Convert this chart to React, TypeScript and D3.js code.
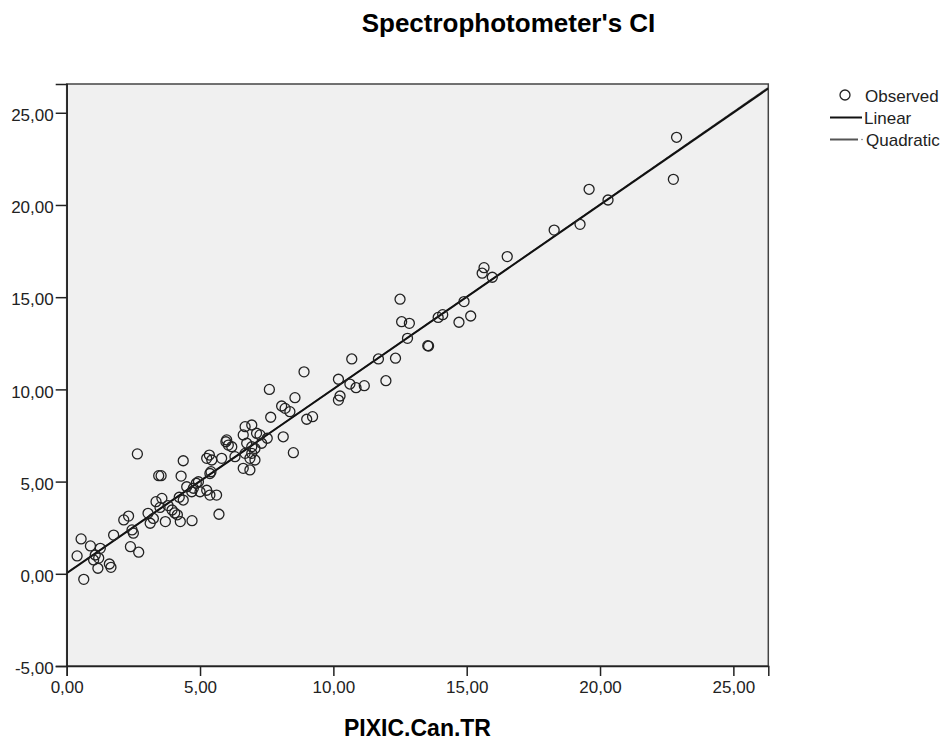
import React, { useEffect, useRef } from 'react';
import * as d3 from 'd3';

const pixicX = [
  0.54, 0.39, 0.89, 1.26, 1.07, 1.17, 1.6, 1.66, 0.64, 1.01, 1.2, 1.76, 2.14, 2.32, 2.45, 2.39, 2.7, 2.65, 2.5,
  3.05, 3.13, 3.35, 3.57, 3.95, 3.7, 4.26, 4.7, 4.22, 3.45, 3.54, 4.29, 4.37, 4.86, 4.94, 4.69, 5.0, 3.8, 4.05,
  3.5, 4.15, 3.25, 4.75, 4.5, 4.37, 5.37,
  5.35, 5.25, 5.44, 5.81, 5.97, 6.06, 6.19, 6.31, 5.41, 5.37, 5.62, 5.71, 5.25,
  6.69, 6.94, 6.62, 7.12, 7.25, 7.52, 6.75, 6.94, 7.06, 7.31, 6.69, 6.94, 6.87, 7.06, 6.62, 6.87, 6.0,
  7.65, 7.6, 8.56, 8.06, 8.19, 8.37, 8.12, 8.5, 8.9, 9.0, 9.22,
  10.19, 10.62, 10.85, 11.16, 10.25, 10.19, 10.69, 11.69, 12.33, 11.97,
  12.5, 12.56, 12.85, 12.78, 13.54, 13.57, 13.93, 14.1, 14.9, 14.71, 15.15,
  15.65, 15.58, 15.96, 16.52, 18.28, 19.25, 19.59, 20.3, 22.75, 22.87,
];
const spectroY = [
  1.89, 0.97, 1.51, 1.38, 1.02, 0.3, 0.53, 0.35, -0.3, 0.75, 0.85, 2.1, 2.92, 3.13, 2.38, 1.47, 1.17, 6.5, 2.2,
  3.28, 2.74, 3.91, 4.09, 3.46, 2.83, 2.83, 2.88, 4.15, 5.32, 5.32, 5.3, 6.13, 4.91, 4.99, 4.45, 4.45, 3.7, 3.3,
  3.6, 3.2, 3.0, 4.64, 4.72, 4.0, 4.27,
  6.44, 6.26, 6.17, 6.26, 7.16, 6.98, 6.89, 6.35, 5.54, 5.44, 4.27, 3.23, 4.53,
  7.98, 8.07, 7.53, 7.62, 7.53, 7.35, 7.08, 6.89, 6.8, 7.08, 6.53, 6.53, 6.26, 6.17, 5.72, 5.63, 7.26,
  8.49, 10.0, 9.55, 9.1, 8.97, 8.79, 7.43, 6.57, 10.95, 8.38, 8.52,
  10.55, 10.29, 10.09, 10.2, 9.64, 9.42, 11.65, 11.65, 11.69, 10.47,
  14.89, 13.67, 13.58, 12.77, 12.37, 12.35, 13.9, 14.05, 14.76, 13.64, 13.98,
  16.6, 16.3, 16.08, 17.2, 18.64, 18.95, 20.85, 20.27, 21.39, 23.67,
];

// fitted curves: [b0, b1] and [b0, b1, b2]
const linearFit = [0.03, 0.999];
const quadraticFit = [0.05, 0.995, 0.0002];

const xTicks = [0, 5, 10, 15, 20, 25];
const yTicks = [-5, 0, 5, 10, 15, 20, 25];
const legendItems = ['Observed', 'Linear', 'Quadratic'];

const FONT = '"Liberation Sans", Arial, sans-serif';
const fmt = (d: number) => d.toFixed(2).replace('.', ',');

function App() {
  const svgRef = useRef<SVGSVGElement>(null);

  useEffect(() => {
    const svg = d3.select(svgRef.current);
    svg.selectAll('*').remove();

    const left = 66.7, right = 768.3, top = 84, bottom = 666;
    const x = d3.scaleLinear().domain([0, 26.31]).range([left, right]);
    const y = d3.scaleLinear().domain([-5, 26.56]).range([bottom, top]);

    svg.append('text')
      .attr('x', 508.5).attr('y', 32)
      .attr('text-anchor', 'middle')
      .attr('font-family', FONT).attr('font-size', 26).attr('font-weight', 'bold')
      .text("Spectrophotometer's CI");

    svg.append('rect')
      .attr('x', left).attr('y', top)
      .attr('width', right - left).attr('height', bottom - top)
      .attr('fill', '#f0f0f0')
      .attr('stroke', '#444').attr('stroke-width', 1.5);

    const plot = svg.append('g');
    plot.append('clipPath').attr('id', 'clip')
      .append('rect').attr('x', left).attr('y', top).attr('width', right - left).attr('height', bottom - top);

    // quadratic, then linear on top
    const xs = d3.range(0, 26.31 + 0.01, 0.1);
    const quad = d3.line<number>()
      .x(d => x(d))
      .y(d => y(quadraticFit[0] + quadraticFit[1] * d + quadraticFit[2] * d * d));
    plot.append('path')
      .datum(xs)
      .attr('clip-path', 'url(#clip)')
      .attr('fill', 'none').attr('stroke', '#555').attr('stroke-width', 1.5)
      .attr('d', quad);
    const lin = d3.line<number>()
      .x(d => x(d))
      .y(d => y(linearFit[0] + linearFit[1] * d));
    plot.append('path')
      .datum([0, 26.31])
      .attr('clip-path', 'url(#clip)')
      .attr('fill', 'none').attr('stroke', '#111').attr('stroke-width', 2)
      .attr('d', lin);

    plot.selectAll('circle.obs')
      .data(pixicX.map((v, i) => [v, spectroY[i]]))
      .join('circle')
      .attr('class', 'obs')
      .attr('cx', d => x(d[0]))
      .attr('cy', d => y(d[1]))
      .attr('r', 5)
      .attr('fill', 'none')
      .attr('stroke', '#222')
      .attr('stroke-width', 1.3);

    const xAxis = svg.append('g')
      .attr('transform', `translate(0,${bottom})`)
      .call(d3.axisBottom(x).tickValues(xTicks).tickFormat(d => fmt(+d)).tickSize(10).tickPadding(5));
    const yAxis = svg.append('g')
      .attr('transform', `translate(${left},0)`)
      .call(d3.axisLeft(y).tickValues(yTicks).tickFormat(d => fmt(+d)).tickSize(11).tickPadding(2));
    [xAxis, yAxis].forEach(a => {
      a.select('.domain').attr('stroke', '#222').attr('stroke-width', 1.5);
      a.selectAll('.tick line').attr('stroke', '#222').attr('stroke-width', 1.5);
      a.selectAll('.tick text')
        .attr('font-family', FONT).attr('font-size', 17).attr('fill', '#222');
    });
    yAxis.selectAll('.tick text').attr('dy', '0.45em');

    svg.append('text')
      .attr('x', (left + right) / 2).attr('y', 736)
      .attr('text-anchor', 'middle')
      .attr('font-family', FONT).attr('font-size', 23).attr('font-weight', 'bold')
      .text('PIXIC.Can.TR');

    // legend
    const lg = svg.append('g').attr('font-family', FONT).attr('font-size', 17).attr('fill', '#222');
    lg.append('circle').attr('cx', 845).attr('cy', 95).attr('r', 5)
      .attr('fill', 'none').attr('stroke', '#222').attr('stroke-width', 1.3);
    lg.append('line').attr('x1', 830).attr('x2', 862).attr('y1', 117.5).attr('y2', 117.5)
      .attr('stroke', '#111').attr('stroke-width', 2);
    lg.append('line').attr('x1', 830).attr('x2', 858).attr('y1', 139.5).attr('y2', 139.5)
      .attr('stroke', '#555').attr('stroke-width', 2);
    lg.append('circle').attr('cx', 862).attr('cy', 139.5).attr('r', 0.8).attr('fill', '#777');
    lg.selectAll('text.leg')
      .data(legendItems)
      .join('text')
      .attr('class', 'leg')
      .attr('x', (d, i) => (i === 0 ? 865 : i === 1 ? 864 : 866))
      .attr('y', (d, i) => 101.5 + i * 22)
      .text(d => d);
  }, []);

  return (
    <svg
      ref={svgRef}
      width={944}
      height={740}
      style={{ position: 'absolute', left: 0, top: 0, background: '#fff' }}
    ></svg>
  );
}

export default App;
